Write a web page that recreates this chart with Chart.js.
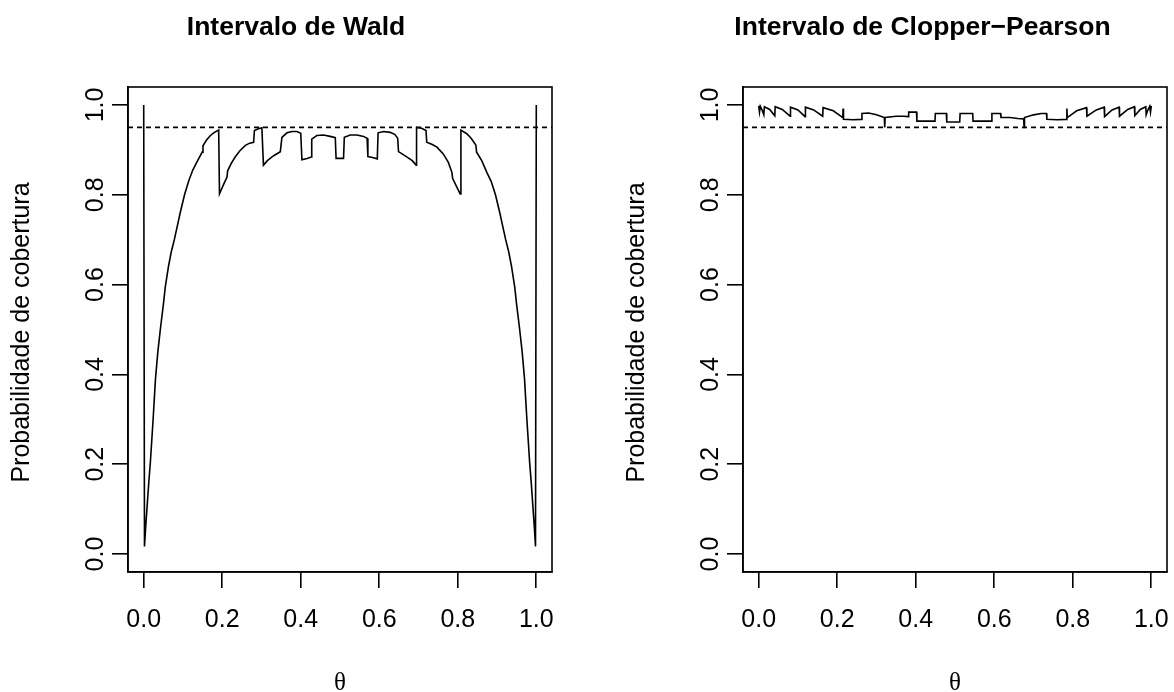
<!DOCTYPE html>
<html>
<head>
<meta charset="utf-8">
<script src="https://cdn.jsdelivr.net/npm/chart.js@4/dist/chart.umd.min.js"></script>
<style>
  html, body { margin:0; padding:0; background:#fff; }
  #wrap { position:relative; width:1174px; height:692px; overflow:hidden; }
  .pane { position:absolute; top:0; width:587px; height:692px; }
</style>
</head>
<body>
<div id="wrap">
  <div class="pane" style="left:0"><canvas id="c1" width="587" height="692"></canvas></div>
  <div class="pane" style="left:587px"><canvas id="c2" width="587" height="692"></canvas></div>
</div>
<script>
// ---- data ----
const xTicks = [0, 0.2, 0.4, 0.6, 0.8, 1.0];
const yTicks = [0, 0.2, 0.4, 0.6, 0.8, 1.0];
const xTickLabels = ["0.0", "0.2", "0.4", "0.6", "0.8", "1.0"];
const yTickLabels = ["0.0", "0.2", "0.4", "0.6", "0.8", "1.0"];
const nominalLevel = 0.95;
const panelTitles = ["Intervalo de Wald", "Intervalo de Clopper\u2212Pearson"];
const xAxisTitle = "\u03B8";
const yAxisTitle = "Probabilidade de cobertura";

const waldTheta = [
  0.000, 0.002, 0.005, 0.009, 0.013, 0.017, 0.024, 0.030, 0.036, 0.043,
  0.050, 0.055, 0.063, 0.070, 0.078, 0.085, 0.093, 0.104, 0.115, 0.125,
  0.135, 0.149, 0.151, 0.160, 0.170, 0.180, 0.191, 0.193, 0.205, 0.212,
  0.214, 0.223, 0.233, 0.245, 0.259, 0.270, 0.280, 0.282, 0.292, 0.301,
  0.305, 0.315, 0.331, 0.348, 0.352, 0.365, 0.378, 0.390, 0.400, 0.403,
  0.416, 0.427, 0.428, 0.441, 0.458, 0.475, 0.488, 0.490, 0.509, 0.511,
  0.526, 0.543, 0.560, 0.569, 0.571, 0.583, 0.595, 0.597, 0.611, 0.628,
  0.640, 0.647, 0.649, 0.669, 0.684, 0.694, 0.695, 0.708, 0.719, 0.721,
  0.735, 0.747, 0.763, 0.776, 0.785, 0.787, 0.797, 0.806, 0.808, 0.823,
  0.834, 0.846, 0.848, 0.861, 0.874, 0.885, 0.896, 0.907, 0.915, 0.922,
  0.930, 0.937, 0.945, 0.950, 0.957, 0.964, 0.970, 0.976, 0.983, 0.987,
  0.991, 0.995, 0.998, 1.000
];
const waldCoverage = [
  1.000, 0.017, 0.060, 0.110, 0.160, 0.205, 0.300, 0.390, 0.450, 0.505,
  0.555, 0.595, 0.640, 0.672, 0.700, 0.728, 0.760, 0.800, 0.832, 0.855,
  0.872, 0.895, 0.909, 0.922, 0.932, 0.939, 0.944, 0.802, 0.826, 0.839,
  0.854, 0.870, 0.884, 0.898, 0.910, 0.915, 0.917, 0.943, 0.947, 0.949,
  0.866, 0.876, 0.887, 0.896, 0.928, 0.938, 0.941, 0.941, 0.937, 0.878,
  0.881, 0.884, 0.924, 0.932, 0.933, 0.930, 0.927, 0.881, 0.881, 0.928,
  0.933, 0.933, 0.930, 0.926, 0.885, 0.883, 0.880, 0.938, 0.941, 0.939,
  0.934, 0.926, 0.896, 0.885, 0.876, 0.866, 0.950, 0.948, 0.943, 0.917,
  0.912, 0.906, 0.891, 0.872, 0.850, 0.836, 0.818, 0.802, 0.944, 0.936,
  0.926, 0.911, 0.895, 0.876, 0.850, 0.830, 0.800, 0.760, 0.728, 0.700,
  0.672, 0.640, 0.595, 0.555, 0.505, 0.450, 0.390, 0.300, 0.205, 0.160,
  0.110, 0.060, 0.017, 1.000
];

const cpTheta = [
  0.000, 0.002, 0.004, 0.009, 0.013, 0.0145, 0.028, 0.041, 0.042, 0.060,
  0.080, 0.081, 0.100, 0.118, 0.119, 0.140, 0.163, 0.164, 0.190, 0.214,
  0.215, 0.216, 0.240, 0.262, 0.263, 0.280, 0.300, 0.320, 0.321, 0.322,
  0.350, 0.370, 0.381, 0.382, 0.402, 0.403, 0.449, 0.450, 0.478, 0.479,
  0.512, 0.513, 0.545, 0.546, 0.593, 0.594, 0.616, 0.617, 0.640, 0.660,
  0.675, 0.676, 0.677, 0.700, 0.720, 0.733, 0.734, 0.760, 0.784, 0.785,
  0.786, 0.810, 0.835, 0.836, 0.860, 0.880, 0.881, 0.900, 0.918, 0.919,
  0.940, 0.957, 0.958, 0.972, 0.986, 0.987, 0.991, 0.996, 0.998, 1.000
];
const cpCoverage = [
  0.998, 0.984, 0.997, 0.988, 0.978, 0.996, 0.990, 0.976, 0.996, 0.990,
  0.975, 0.995, 0.989, 0.974, 0.995, 0.989, 0.975, 0.994, 0.987, 0.972,
  0.992, 0.968, 0.967, 0.968, 0.981, 0.982, 0.978, 0.972, 0.950, 0.972,
  0.975, 0.975, 0.974, 0.984, 0.984, 0.964, 0.964, 0.981, 0.981, 0.962,
  0.962, 0.981, 0.981, 0.964, 0.964, 0.981, 0.981, 0.972, 0.972, 0.970,
  0.969, 0.950, 0.972, 0.978, 0.981, 0.981, 0.968, 0.967, 0.968, 0.992,
  0.972, 0.987, 0.994, 0.975, 0.989, 0.995, 0.974, 0.989, 0.995, 0.975,
  0.990, 0.996, 0.976, 0.990, 0.996, 0.978, 0.988, 0.997, 0.984, 0.998
];

// ---- drawing ----
const X_MIN = -0.04, X_MAX = 1.04, Y_MIN = -0.04, Y_MAX = 1.04;
const SANS = '"Liberation Sans", Arial, Helvetica, sans-serif';
const SERIF = '"Liberation Serif", "DejaVu Serif", serif';
const LW = 1.6;

function toPoints(xs, ys) { return xs.map((x, i) => ({ x: x, y: ys[i] })); }

const rDecor = {
  id: 'rDecor',
  afterDraw(chart, args, opts) {
    const ctx = chart.ctx, a = chart.chartArea;
    const xs = chart.scales.x, ys = chart.scales.y;
    ctx.save();
    // box
    ctx.strokeStyle = '#000';
    ctx.lineWidth = LW;
    ctx.strokeRect(a.left, a.top, a.right - a.left, a.bottom - a.top);
    ctx.fillStyle = '#000';
    // x tick labels
    ctx.font = '25px ' + SANS;
    ctx.textAlign = 'center';
    ctx.textBaseline = 'middle';
    xTicks.forEach((v, i) => ctx.fillText(xTickLabels[i], xs.getPixelForValue(v), opts.xLabelY));
    // y tick labels (rotated)
    yTicks.forEach((v, i) => {
      ctx.save();
      ctx.translate(a.left - opts.yLabelDist, ys.getPixelForValue(v));
      ctx.rotate(-Math.PI / 2);
      ctx.fillText(yTickLabels[i], 0, 0);
      ctx.restore();
    });
    // y axis title
    ctx.save();
    ctx.translate(a.left - opts.yTitleDist, (a.top + a.bottom) / 2 + 3);
    ctx.rotate(-Math.PI / 2);
    ctx.fillText(yAxisTitle, 0, 0);
    ctx.restore();
    // x axis title
    ctx.font = '25px ' + SERIF;
    ctx.fillText(xAxisTitle, (a.left + a.right) / 2, opts.xTitleY);
    // main title
    ctx.font = 'bold 26.5px ' + SANS;
    ctx.textBaseline = 'alphabetic';
    ctx.fillText(opts.title, opts.titleX, 35);
    ctx.restore();
  }
};

function makeChart(id, theta, cov, opts, padLeft, padRight) {
  const scaleBase = (ticksArr, isX) => ({
    type: 'linear',
    min: isX ? X_MIN : Y_MIN,
    max: isX ? X_MAX : Y_MAX,
    afterBuildTicks: s => { s.ticks = ticksArr.map(v => ({ value: v })); },
    afterFit: s => { if (isX) s.height = 16; else s.width = 16; },
    ticks: { display: false },
    grid: { display: true, drawOnChartArea: false, drawTicks: true, tickLength: 16, color: '#000', lineWidth: LW },
    border: { display: true, color: '#000', width: LW }
  });
  return new Chart(document.getElementById(id), {
    type: 'line',
    data: {
      datasets: [
        {
          data: toPoints(theta, cov),
          borderColor: '#000', borderWidth: LW, pointRadius: 0, tension: 0, fill: false
        },
        {
          data: [{ x: X_MIN, y: nominalLevel }, { x: X_MAX, y: nominalLevel }],
          borderColor: '#000', borderWidth: LW, borderDash: [5, 4], pointRadius: 0, fill: false
        }
      ]
    },
    options: {
      responsive: false,
      animation: false,
      devicePixelRatio: 1,
      layout: { padding: { left: padLeft, right: padRight, top: 87, bottom: 104 } },
      scales: { x: scaleBase(xTicks, true), y: scaleBase(yTicks, false) },
      plugins: { legend: { display: false }, tooltip: { enabled: false }, rDecor: opts }
    },
    plugins: [rDecor]
  });
}

makeChart('c1', waldTheta, waldCoverage,
  { title: panelTitles[0], titleX: 296, xLabelY: 620, xTitleY: 683, yLabelDist: 32, yTitleDist: 106 },
  112, 35);
makeChart('c2', cpTheta, cpCoverage,
  { title: panelTitles[1], titleX: 335.5, xLabelY: 620, xTitleY: 683, yLabelDist: 32, yTitleDist: 106 },
  140, 7);
</script>
</body>
</html>
